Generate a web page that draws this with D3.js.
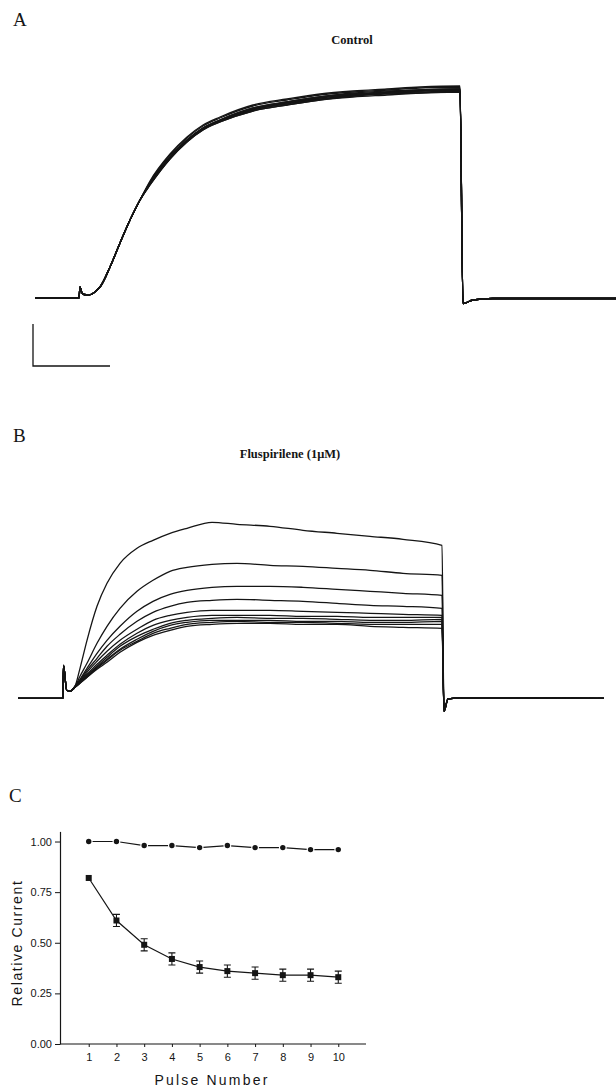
<!DOCTYPE html>
<html><head><meta charset="utf-8">
<script src="https://cdn.jsdelivr.net/npm/d3@7"></script>
<style>body{margin:0;background:#fff}svg{display:block}</style>
</head><body>
<script>
// ---------- Panel A: Control traces (time ms, current nA) ----------
const ctrlPreT = [0, 44, 45, 47, 49, 53, 57, 62, 65, 75, 85, 95, 105];
const ctrlPreI = [0, 0, 0.11, 0.05, 0.035, 0.03, 0.04, 0.08, 0.11, 0.31, 0.55, 0.78, 0.98];
const ctrlT = [115, 135, 152, 168, 185, 218, 252, 285, 318, 352, 385, 425];
const ctrl1 = [1.17, 1.44, 1.61, 1.73, 1.81, 1.93, 1.99, 2.04, 2.07, 2.09, 2.11, 2.12];
const ctrl2 = [1.16, 1.43, 1.60, 1.72, 1.80, 1.92, 1.98, 2.03, 2.06, 2.08, 2.10, 2.11];
const ctrl3 = [1.15, 1.41, 1.58, 1.70, 1.78, 1.90, 1.96, 2.01, 2.05, 2.07, 2.08, 2.09];
const ctrl4 = [1.15, 1.41, 1.58, 1.70, 1.78, 1.89, 1.96, 2.01, 2.04, 2.06, 2.08, 2.09];
const ctrl5 = [1.14, 1.40, 1.57, 1.69, 1.77, 1.89, 1.95, 2.00, 2.03, 2.05, 2.07, 2.08];
const ctrl6 = [1.15, 1.41, 1.58, 1.70, 1.78, 1.90, 1.96, 2.01, 2.04, 2.06, 2.08, 2.09];
const ctrl7 = [1.14, 1.40, 1.57, 1.69, 1.77, 1.88, 1.95, 1.99, 2.03, 2.05, 2.07, 2.08];
const ctrl8 = [1.14, 1.40, 1.57, 1.69, 1.77, 1.88, 1.94, 1.99, 2.02, 2.05, 2.06, 2.07];
const ctrl9 = [1.13, 1.39, 1.56, 1.68, 1.76, 1.87, 1.93, 1.98, 2.02, 2.04, 2.05, 2.06];
const ctrl10 = [1.13, 1.39, 1.56, 1.68, 1.76, 1.87, 1.93, 1.98, 2.01, 2.03, 2.05, 2.06];
const ctrlTailT = [428, 438, 458, 581];
const ctrlTailI = [-0.055, -0.02, -0.005, -0.005];
const scaleBarMs = 77, scaleBarNA = 0.42;

// ---------- Panel B: Fluspirilene (1 µM) traces ----------
const flusPreT = [0, 45, 45.5, 48.7, 52];
const flusPreI = [0, 0, 0.33, 0.08, 0.07];
const flusT = [57, 62, 69, 79, 89, 102, 119, 135, 152, 169, 194, 219, 252, 285, 319, 352, 385, 424];
const flus1 = [0.12, 0.30, 0.58, 0.92, 1.15, 1.35, 1.50, 1.58, 1.65, 1.70, 1.76, 1.74, 1.72, 1.68, 1.65, 1.62, 1.59, 1.53];
const flus2 = [0.12, 0.22, 0.35, 0.55, 0.72, 0.90, 1.07, 1.18, 1.27, 1.31, 1.34, 1.35, 1.33, 1.32, 1.30, 1.28, 1.25, 1.23];
const flus3 = [0.12, 0.19, 0.30, 0.45, 0.58, 0.72, 0.87, 0.97, 1.04, 1.08, 1.11, 1.12, 1.12, 1.11, 1.09, 1.07, 1.05, 1.03];
const flus4 = [0.12, 0.18, 0.28, 0.40, 0.52, 0.64, 0.77, 0.86, 0.92, 0.96, 0.98, 0.99, 0.98, 0.97, 0.95, 0.93, 0.92, 0.90];
const flus5 = [0.11, 0.17, 0.26, 0.37, 0.47, 0.58, 0.69, 0.78, 0.83, 0.86, 0.88, 0.88, 0.88, 0.87, 0.86, 0.85, 0.84, 0.83];
const flus6 = [0.11, 0.17, 0.24, 0.34, 0.43, 0.54, 0.65, 0.73, 0.78, 0.81, 0.83, 0.83, 0.83, 0.82, 0.82, 0.81, 0.81, 0.81];
const flus7 = [0.11, 0.16, 0.23, 0.32, 0.41, 0.52, 0.62, 0.69, 0.75, 0.78, 0.80, 0.81, 0.80, 0.80, 0.79, 0.78, 0.78, 0.79];
const flus8 = [0.11, 0.16, 0.22, 0.31, 0.39, 0.49, 0.59, 0.67, 0.73, 0.76, 0.78, 0.78, 0.78, 0.77, 0.77, 0.76, 0.76, 0.77];
const flus9 = [0.11, 0.15, 0.21, 0.30, 0.38, 0.48, 0.57, 0.65, 0.70, 0.74, 0.76, 0.77, 0.76, 0.76, 0.75, 0.74, 0.74, 0.74];
const flus10 = [0.11, 0.15, 0.21, 0.29, 0.36, 0.46, 0.56, 0.63, 0.68, 0.72, 0.74, 0.75, 0.75, 0.74, 0.74, 0.72, 0.71, 0.70];
const flusTailT = [426, 430, 445, 586];
const flusTailI = [-0.13, -0.005, 0.005, 0];

// ---------- Panel C: relative current vs pulse number ----------
const pulses = [1, 2, 3, 4, 5, 6, 7, 8, 9, 10];
const controlRel = [1.00, 1.00, 0.98, 0.98, 0.97, 0.98, 0.97, 0.97, 0.96, 0.96];
const drugRel = [0.82, 0.61, 0.49, 0.42, 0.38, 0.36, 0.35, 0.34, 0.34, 0.33];
const drugErr = [0, 0.03, 0.03, 0.03, 0.03, 0.03, 0.03, 0.03, 0.03, 0.03];
const yTicks = [0, 0.25, 0.5, 0.75, 1.0];

// ------------------------------------------------------------------
const W = 616, H = 1087, ink = "#151515";
const svg = d3.select("body").append("svg").attr("width", W).attr("height", H);
svg.append("rect").attr("width", W).attr("height", H).attr("fill", "#fff");

const serif = "'Liberation Serif','DejaVu Serif',serif";
const sans = "'Liberation Sans','DejaVu Sans',sans-serif";

function buildTrace(preT, preI, t, vals, tailT, tailI) {
  const pts = [];
  preT.forEach((d, i) => pts.push([d, preI[i]]));
  t.forEach((d, i) => pts.push([d, vals[i]]));
  tailT.forEach((d, i) => pts.push([d, tailI[i]]));
  return pts;
}

// Panel A
const xA = d3.scaleLinear().domain([0, 581]).range([35, 616]);
const yA = d3.scaleLinear().domain([0, 2]).range([298, 98]);
const lineA = d3.line().x(d => xA(d[0])).y(d => yA(d[1])).curve(d3.curveMonotoneX);
const ctrlAll = [ctrl1, ctrl2, ctrl3, ctrl4, ctrl5, ctrl6, ctrl7, ctrl8, ctrl9, ctrl10];
const gA = svg.append("g");
gA.selectAll("path.tr").data(ctrlAll).join("path")
  .attr("d", v => lineA(buildTrace(ctrlPreT, ctrlPreI, ctrlT, v, ctrlTailT, ctrlTailI)))
  .attr("fill", "none").attr("stroke", ink).attr("stroke-width", 1.3);

// scale bar
const sbX0 = 33, sbY0 = 366;
gA.append("path")
  .attr("d", `M${sbX0},${sbY0 - (yA(0) - yA(scaleBarNA))}V${sbY0}H${sbX0 + (xA(scaleBarMs) - xA(0))}`)
  .attr("fill", "none").attr("stroke", ink).attr("stroke-width", 1.3);

svg.append("text").attr("x", 13).attr("y", 26).text("A")
  .attr("font-family", serif).attr("font-size", 19).attr("fill", ink);
svg.append("text").attr("x", 352).attr("y", 44).attr("text-anchor", "middle").text("Control")
  .attr("font-family", serif).attr("font-size", 12.5).attr("font-weight", "bold").attr("fill", ink);

// Panel B
const xB = d3.scaleLinear().domain([0, 586]).range([18, 604]);
const yB = d3.scaleLinear().domain([0, 2]).range([698.3, 498.3]);
const lineB = d3.line().x(d => xB(d[0])).y(d => yB(d[1])).curve(d3.curveMonotoneX);
const flusAll = [flus1, flus2, flus3, flus4, flus5, flus6, flus7, flus8, flus9, flus10];
const gB = svg.append("g");
gB.selectAll("path.tr").data(flusAll).join("path")
  .attr("d", v => lineB(buildTrace(flusPreT, flusPreI, flusT, v, flusTailT, flusTailI)))
  .attr("fill", "none").attr("stroke", ink).attr("stroke-width", 1.3);

svg.append("text").attr("x", 13).attr("y", 442).text("B")
  .attr("font-family", serif).attr("font-size", 19).attr("fill", ink);
svg.append("text").attr("x", 290).attr("y", 458).attr("text-anchor", "middle").text("Fluspirilene (1μM)")
  .attr("font-family", serif).attr("font-size", 12.5).attr("font-weight", "bold").attr("fill", ink);

// Panel C
svg.append("text").attr("x", 9).attr("y", 802).text("C")
  .attr("font-family", serif).attr("font-size", 19).attr("fill", ink);

const xC = d3.scaleLinear().domain([0, 11]).range([61, 366]);
const yC = d3.scaleLinear().domain([0, 1.05]).range([1044, 831.4]);
const gC = svg.append("g");

const yAxis = d3.axisLeft(yC).tickValues(yTicks).tickFormat(d3.format(".2f")).tickSize(5).tickSizeOuter(0);
const gy = gC.append("g").attr("transform", "translate(60,0)").call(yAxis);
const xAxis = d3.axisBottom(xC).tickValues(pulses).tickFormat(d3.format("d")).tickSize(3).tickSizeOuter(0);
const gx = gC.append("g").attr("transform", `translate(0,${yC(0)})`).call(xAxis);
[gy, gx].forEach(g => {
  g.selectAll("path.domain").attr("stroke", ink).attr("stroke-width", 1.2);
  g.selectAll(".tick line").attr("stroke", ink).attr("stroke-width", 1);
  g.selectAll(".tick text").attr("fill", ink).attr("font-family", sans).attr("font-size", 11);
});
gx.selectAll(".tick text").attr("dy", "1em");
gx.select("path.domain").attr("d", `M${60},0H${xC(11)}`);

// control series: line + circles (white halo so the line looks broken at each marker)
const lineC = d3.line().x((d, i) => xC(pulses[i])).y(d => yC(d));
gC.append("path").attr("d", lineC(controlRel)).attr("fill", "none").attr("stroke", ink).attr("stroke-width", 1.2);
gC.selectAll("circle.ctl").data(controlRel).join("circle")
  .attr("cx", (d, i) => xC(pulses[i])).attr("cy", d => yC(d)).attr("r", 2.7)
  .attr("fill", ink).attr("stroke", "#fff").attr("stroke-width", 2.4).attr("paint-order", "stroke");

// drug series: line + error bars + squares
gC.append("path").attr("d", lineC(drugRel)).attr("fill", "none").attr("stroke", ink).attr("stroke-width", 1.2);
gC.selectAll("path.err").data(pulses.filter((p, i) => drugErr[i] > 0)).join("path")
  .attr("d", p => {
    const i = pulses.indexOf(p);
    const x = xC(p), y1 = yC(drugRel[i] + drugErr[i]), y2 = yC(drugRel[i] - drugErr[i]);
    return `M${x - 3.5},${y1}H${x + 3.5}M${x},${y1}V${y2}M${x - 3.5},${y2}H${x + 3.5}`;
  })
  .attr("fill", "none").attr("stroke", ink).attr("stroke-width", 1.1);
gC.selectAll("rect.sq").data(drugRel).join("rect")
  .attr("x", (d, i) => xC(pulses[i]) - 3).attr("y", d => yC(d) - 3)
  .attr("width", 6).attr("height", 6).attr("fill", ink);

// axis titles
svg.append("text").attr("transform", "translate(22,943) rotate(-90)")
  .attr("text-anchor", "middle").text("Relative Current")
  .attr("font-family", sans).attr("font-size", 14).attr("letter-spacing", 1.6).attr("fill", ink);
svg.append("text").attr("x", 212).attr("y", 1085).attr("text-anchor", "middle").text("Pulse Number")
  .attr("font-family", sans).attr("font-size", 14).attr("letter-spacing", 2.2).attr("fill", ink);
</script>
</body></html>
